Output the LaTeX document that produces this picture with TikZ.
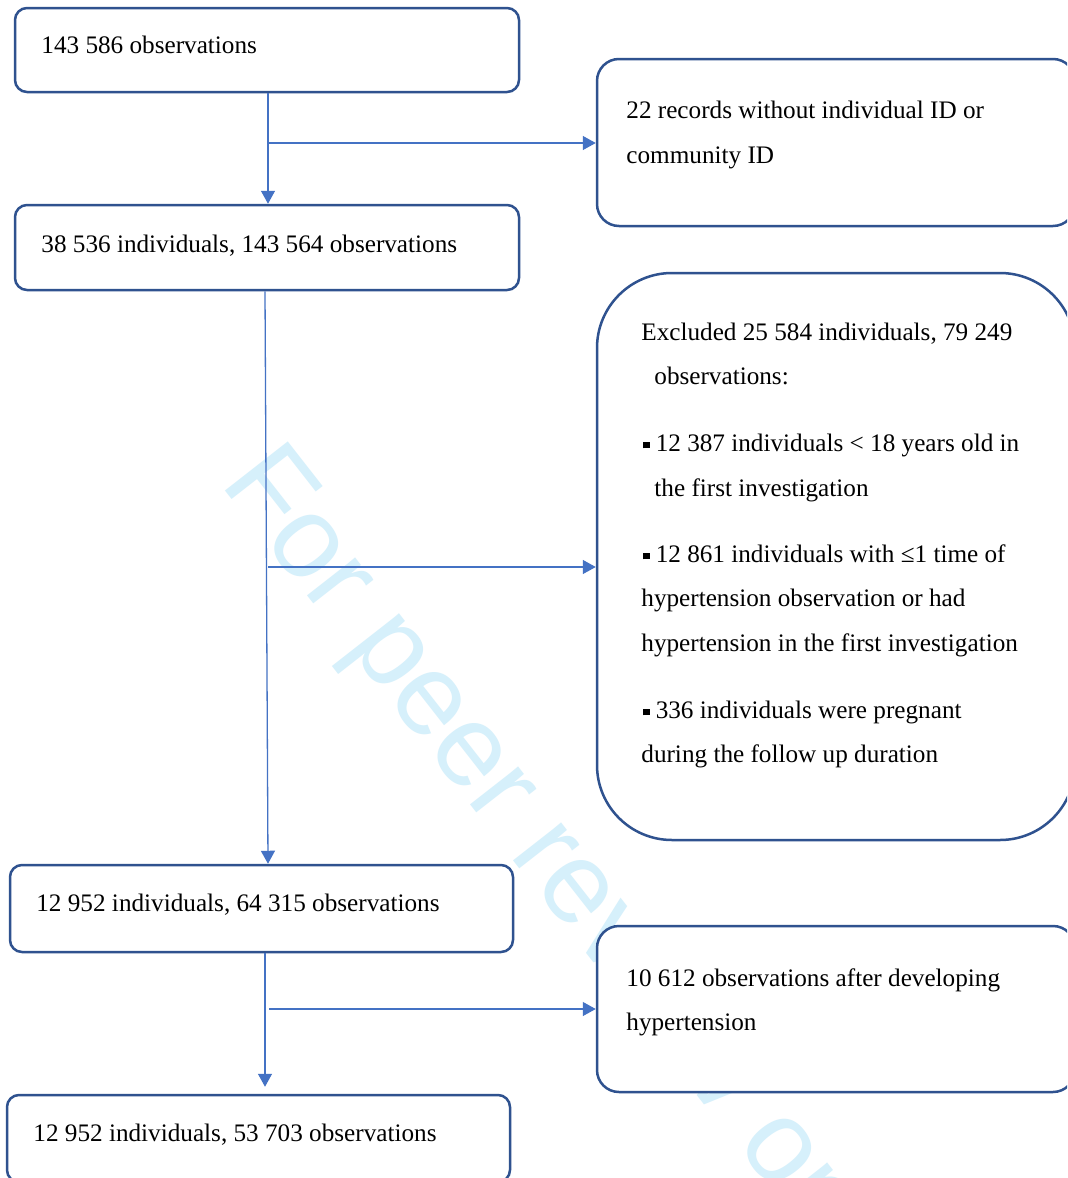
\documentclass[tikz,border=0pt]{standalone}
\usepackage{fontspec}
\setmainfont{Liberation Serif}
\newfontfamily\wmfont{Liberation Sans}
\usetikzlibrary{arrows.meta,calc}
\definecolor{boxblue}{HTML}{2F528F}
\definecolor{lineblue}{HTML}{4472C4}
\definecolor{wmcyan}{HTML}{D6F0FB}
\newcommand\bul{\makebox[0.57em][l]{\hspace{1pt}\raisebox{0.1em}{\rule{0.25em}{0.25em}}}}
\tikzset{
  box/.style={draw=boxblue, line width=1.25pt, fill=white, rectangle, inner sep=0pt},
  txt/.style={anchor=base west, inner sep=0pt, font=\fontsize{12.6pt}{14pt}\selectfont},
  arr/.style={draw=lineblue, line width=0.65pt, -{Triangle[length=6.5pt,width=7pt]}},
}
\begin{document}
\begin{tikzpicture}[x=0.5pt,y=-0.5pt]
\useasboundingbox (0,0) rectangle (1067,1178);
\clip (0,0) rectangle (1067,1178);
\fill[white] (0,0) rectangle (1067,1178);
% watermark
\node[anchor=base west, inner sep=0pt, rotate=-52, text=wmcyan, font=\wmfont\fontsize{58pt}{60pt}\selectfont] (wm) at (219,483) {For peer review only};
% boxes
\node[box, rounded corners=6pt, minimum width=252pt, minimum height=42pt] (b1) at (267,50) {};
\node[box, rounded corners=11pt, minimum width=239pt, minimum height=83.5pt] (b2) at (836,142.5) {};
\node[box, rounded corners=6pt, minimum width=252pt, minimum height=42.5pt] (b3) at (267,247.5) {};
\node[box, rounded corners=37.5pt, minimum width=239pt, minimum height=283.5pt] (b4) at (836,556.5) {};
\node[box, rounded corners=6pt, minimum width=251.5pt, minimum height=43.5pt] (b5) at (261.5,908.5) {};
\node[box, rounded corners=11pt, minimum width=239pt, minimum height=83pt] (b6) at (836,1009) {};
\node[box, rounded corners=6pt, minimum width=251.5pt, minimum height=43.5pt] (b7) at (258.5,1138.5) {};
% texts
\node[txt] (t1) at (41,54) {143 586 observations};
\node[txt] (t2a) at (626,118) {22 records without individual ID or};
\node[txt] (t2b) at (626,163) {community ID};
\node[txt] (t3) at (41,252) {38 536 individuals, 143 564 observations};
\node[txt] (t4a) at (641,340) {Excluded 25 584 individuals, 79 249};
\node[txt] (t4b) at (654,384) {observations:};
\node[txt] (t4c) at (641,451) {\bul 12 387 individuals < 18 years old in};
\node[txt] (t4d) at (654,496) {the first investigation};
\node[txt] (t4e) at (641,562) {\bul 12 861 individuals with ≤1 time of};
\node[txt] (t4f) at (641,606) {hypertension observation or had};
\node[txt] (t4g) at (641,651) {hypertension in the first investigation};
\node[txt] (t4h) at (641,718) {\bul 336 individuals were pregnant};
\node[txt] (t4i) at (641,762) {during the follow up duration};
\node[txt] (t5) at (36,911) {12 952 individuals, 64 315 observations};
\node[txt] (t6a) at (626,986) {10 612 observations after developing};
\node[txt] (t6b) at (626,1030) {hypertension};
\node[txt] (t7) at (33,1141) {12 952 individuals, 53 703 observations};
% connectors
\coordinate (xa) at (268,0);
\coordinate (xb) at (265,0);
\coordinate (j1) at (268,143);
\coordinate (j2) at (268,567);
\coordinate (j3) at (269,1009);
\coordinate (b7top) at ([yshift=3.5pt]b7.north);
\draw[arr] (b1.south -| xa) -- (b3.north -| xa);
\draw[arr] (j1) -- (j1 -| b2.west);
\draw[arr] (b3.south -| xb) -- (b5.north -| xa);
\draw[arr] (j2) -- (j2 -| b4.west);
\draw[arr] (b5.south -| xb) -- (b7top -| xb);
\draw[arr] (j3) -- (j3 -| b6.west);
\end{tikzpicture}
\end{document}
